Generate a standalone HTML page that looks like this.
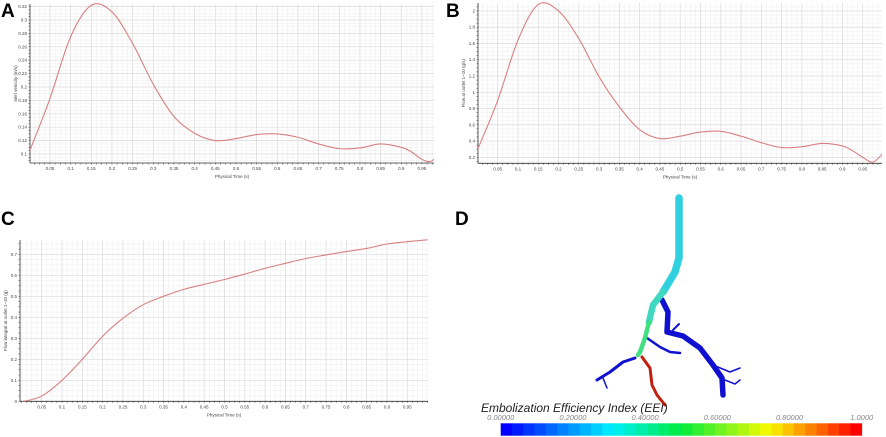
<!DOCTYPE html>
<html><head><meta charset="utf-8">
<style>
html,body{margin:0;padding:0;background:#fff;}
svg{display:block;font-family:"Liberation Sans",sans-serif;}
</style></head>
<body>
<svg id="fig" width="886" height="437" viewBox="0 0 886 437">
<text x="1" y="17" font-size="19" font-weight="bold">A</text>
<text x="446" y="17" font-size="19" font-weight="bold">B</text>
<text x="1" y="225" font-size="19" font-weight="bold">C</text>
<text x="455" y="225" font-size="19" font-weight="bold">D</text>
<g id="charts"></g>
<g id="vessels" fill="none" stroke-linecap="round" stroke-linejoin="round">
  <polyline points="647,338 660,347 670,352 680,353" stroke="#1010d0" stroke-width="2.5"/>
  <polyline points="662,300 668,312 667,332 683,336 700,348 713,365 722,378 723,395" stroke="#1010d0" stroke-width="5.5"/>
  <polyline points="713,365 730,372 740,368" stroke="#1010d0" stroke-width="1.5"/>
  <polyline points="720,378 735,384 740,380" stroke="#1010d0" stroke-width="1.5"/>
  <polyline points="673,330 679,324" stroke="#1010d0" stroke-width="2"/>
  <polyline points="635,358 623,362 610,372 597,380" stroke="#1010d0" stroke-width="3"/>
  <polyline points="603,378 607,388" stroke="#1010d0" stroke-width="1.5"/>
  <polyline points="642,357 650,368 652,385 657,395 665,405" stroke="#c02010" stroke-width="3"/>
  <polyline points="679,198 679,258 675,272 663,292" stroke="#30d0e0" stroke-width="7.5"/>
  <polyline points="663,292 653,305 649,322" stroke="#40d8c0" stroke-width="6.5"/>
  <polyline points="649,322 645,338 640,352 638,355" stroke="#40e080" stroke-width="4.5"/>
</g>
<text x="481" y="412" font-size="12" font-style="italic" fill="#222">Embolization Efficiency Index (EEI)</text>
<g id="cbar"></g>
</svg>
<script>
const NS='http://www.w3.org/2000/svg';
function mk(tag,attrs,parent){const e=document.createElementNS(NS,tag);for(const k in attrs)e.setAttribute(k,attrs[k]);parent.appendChild(e);return e;}

// Panel A data
const timeA=[0,0.05,0.1,0.15,0.2,0.25,0.3,0.35,0.4,0.45,0.5,0.55,0.6,0.65,0.7,0.75,0.8,0.85,0.9,0.925,0.95,0.975,1.0];
const valA=[0.103,0.183,0.275,0.322,0.312,0.265,0.204,0.156,0.131,0.12,0.123,0.129,0.13,0.125,0.115,0.108,0.109,0.115,0.11,0.103,0.092,0.09,0.11];
const yTicksA=[0.1,0.12,0.14,0.16,0.18,0.2,0.22,0.24,0.26,0.28,0.3,0.32];
// Panel B data
const timeB=[0,0.05,0.1,0.15,0.2,0.25,0.3,0.35,0.4,0.45,0.5,0.55,0.6,0.65,0.7,0.75,0.8,0.85,0.9,0.925,0.95,0.975,1.0];
const valB=[0.29,0.9,1.64,2.08,2.0,1.66,1.19,0.82,0.54,0.43,0.46,0.51,0.52,0.46,0.38,0.32,0.33,0.37,0.34,0.28,0.2,0.14,0.25];
const yTicksB=[0.2,0.4,0.6,0.8,1,1.2,1.4,1.6,1.8,2];
// Panel C data
const timeC=[0,0.05,0.1,0.15,0.2,0.25,0.3,0.35,0.4,0.45,0.5,0.55,0.6,0.65,0.7,0.75,0.8,0.85,0.9,0.95,1.0];
const valC=[-0.003,0.025,0.1,0.2,0.31,0.395,0.46,0.5,0.533,0.557,0.58,0.606,0.633,0.657,0.68,0.697,0.713,0.728,0.749,0.76,0.769];
const yTicksC=[0,0.1,0.2,0.3,0.4,0.5,0.6,0.7];
const xTicks=[0.05,0.1,0.15,0.2,0.25,0.3,0.35,0.4,0.45,0.5,0.55,0.6,0.65,0.7,0.75,0.8,0.85,0.9,0.95];

let clipN=0;
function chart(id,cfg,times,vals,yTicks){
  const root=document.getElementById('charts');
  const g=mk('g',{},root);
  
  
  const X=t=>cfg.x0+t*cfg.xs, Y=v=>cfg.yb-(v-cfg.v0)*cfg.ys;
  for(let i=0;i<=80;i++){const x=X(i*0.0125);if(x<cfg.l||x>cfg.r)continue;mk('line',{x1:x,x2:x,y1:cfg.t,y2:cfg.b,stroke:'#f0f0f0','stroke-width':0.6},g);}
  const dy=yTicks[1]-yTicks[0];
  for(let i=-4;i<=yTicks.length*4+4;i++){const y=Y(yTicks[0]+i*dy/4);if(y<cfg.t||y>cfg.b)continue;mk('line',{x1:cfg.l,x2:cfg.r,y1:y,y2:y,stroke:'#f0f0f0','stroke-width':0.6},g);}
  xTicks.forEach(t=>{const x=X(t);mk('line',{x1:x,x2:x,y1:cfg.t,y2:cfg.b,stroke:'#dcdcdc','stroke-width':0.7},g);
    const tl=mk('text',{x:x,y:cfg.b+7,'font-size':4.5,'text-anchor':'middle',fill:'#444'},g);tl.textContent=String(t);});
  yTicks.forEach(v=>{const y=Y(v);mk('line',{x1:cfg.l,x2:cfg.r,y1:y,y2:y,stroke:'#dcdcdc','stroke-width':0.7},g);
    const tl=mk('text',{x:cfg.l-3,y:y+1.5,'font-size':4.5,'text-anchor':'end',fill:'#444'},g);tl.textContent=String(v);});
  for(let i=0;i<=80;i++){const x=X(i*0.0125);if(x<cfg.l||x>cfg.r)continue;mk('line',{x1:x,x2:x,y1:cfg.b,y2:cfg.b+1.5,stroke:'#333','stroke-width':0.5},g);}
  for(let i=-4;i<=yTicks.length*4+4;i++){const y=Y(yTicks[0]+i*dy/4);if(y<cfg.t||y>cfg.b)continue;mk('line',{x1:cfg.l-1.5,x2:cfg.l,y1:y,y2:y,stroke:'#333','stroke-width':0.5},g);}
  mk('line',{x1:cfg.l,x2:cfg.r,y1:cfg.b,y2:cfg.b,stroke:'#333','stroke-width':0.8},g);
  mk('line',{x1:cfg.l,x2:cfg.l,y1:cfg.t,y2:cfg.b,stroke:'#333','stroke-width':0.8},g);
  const xl=mk('text',{x:(cfg.l+cfg.r)/2,y:cfg.b+15,'font-size':4.5,'text-anchor':'middle',fill:'#444'},g);xl.textContent='Physical Time (s)';
  const cy=(cfg.t+cfg.b)/2;
  const yl=mk('text',{x:cfg.l-13,y:cy,'font-size':4.5,'text-anchor':'middle',fill:'#444',transform:`rotate(-90 ${cfg.l-13} ${cy})`},g);yl.textContent=cfg.ylab;
  const cid='clip'+(clipN++);
  const cp=mk('clipPath',{id:cid},g);mk('rect',{x:cfg.l,y:cfg.t-3,width:cfg.r-cfg.l,height:cfg.b-cfg.t+3},cp);
  const P=times.map((t,i)=>[X(t),Y(vals[i])]);
  let d='M'+P[0][0].toFixed(2)+','+P[0][1].toFixed(2);
  for(let i=0;i<P.length-1;i++){const p0=P[i-1]||P[i],p1=P[i],p2=P[i+1],p3=P[i+2]||P[i+1];
    const c1=[p1[0]+(p2[0]-p0[0])/6,p1[1]+(p2[1]-p0[1])/6],c2=[p2[0]-(p3[0]-p1[0])/6,p2[1]-(p3[1]-p1[1])/6];
    d+=` C${c1[0].toFixed(2)},${c1[1].toFixed(2)} ${c2[0].toFixed(2)},${c2[1].toFixed(2)} ${p2[0].toFixed(2)},${p2[1].toFixed(2)}`;}
  const line=mk('path',{d:d,fill:'none',stroke:'#d98080','stroke-width':1.1,'clip-path':`url(#${cid})`},g);
  
  
}
chart('chart-a-inlet-velocity',{x0:29.3,xs:413.3,l:30,r:434,t:4,b:163,yb:154,v0:0.1,ys:670,ylab:'Inlet velocity (m/s)'},timeA,valA,yTicksA);
chart('chart-b-flow-outlet',{x0:477.4,xs:405.6,l:478,r:882,t:3,b:163.3,yb:157.3,v0:0.2,ys:81.3,ylab:'Flow at outlet 1~10 (g/s)'},timeB,valB,yTicksB);
chart('chart-c-flow-integral',{x0:21.4,xs:406.2,l:20,r:428,t:240,b:401.3,yb:401.3,v0:0,ys:210,ylab:'Flow integral at outlet 1~10 (g)'},timeC,valC,yTicksC);

const cbTicks=['0.00000','0.20000','0.40000','0.60000','0.80000','1.0000'];
const cb=document.getElementById('cbar');
const N=32,cx0=500.7,cx1=861.7;
function jet(v){const stops=[[0,[0,0,255]],[0.3,[0,240,255]],[0.5,[0,235,60]],[0.75,[250,250,0]],[1,[255,0,0]]];
  for(let i=0;i<stops.length-1;i++){const[a,ca]=stops[i],[b,cb2]=stops[i+1];if(v<=b){const f=(v-a)/(b-a);return `rgb(${ca.map((c,k)=>Math.round(c+(cb2[k]-c)*f)).join(',')})`;}}return 'rgb(255,0,0)';}
for(let i=0;i<N;i++){const r=mk('rect',{x:cx0+i*(cx1-cx0)/N,y:423.3,width:(cx1-cx0)/N+0.4,height:12.4,fill:jet(i/(N-1))},cb);
  
  }
cbTicks.forEach((s,i)=>{const t=mk('text',{x:cx0+i*(cx1-cx0)/5,y:420,'font-size':7.5,'font-style':'italic','text-anchor':'middle',fill:'#888'},cb);t.textContent=s;
  
  });
</script>
</body></html>
